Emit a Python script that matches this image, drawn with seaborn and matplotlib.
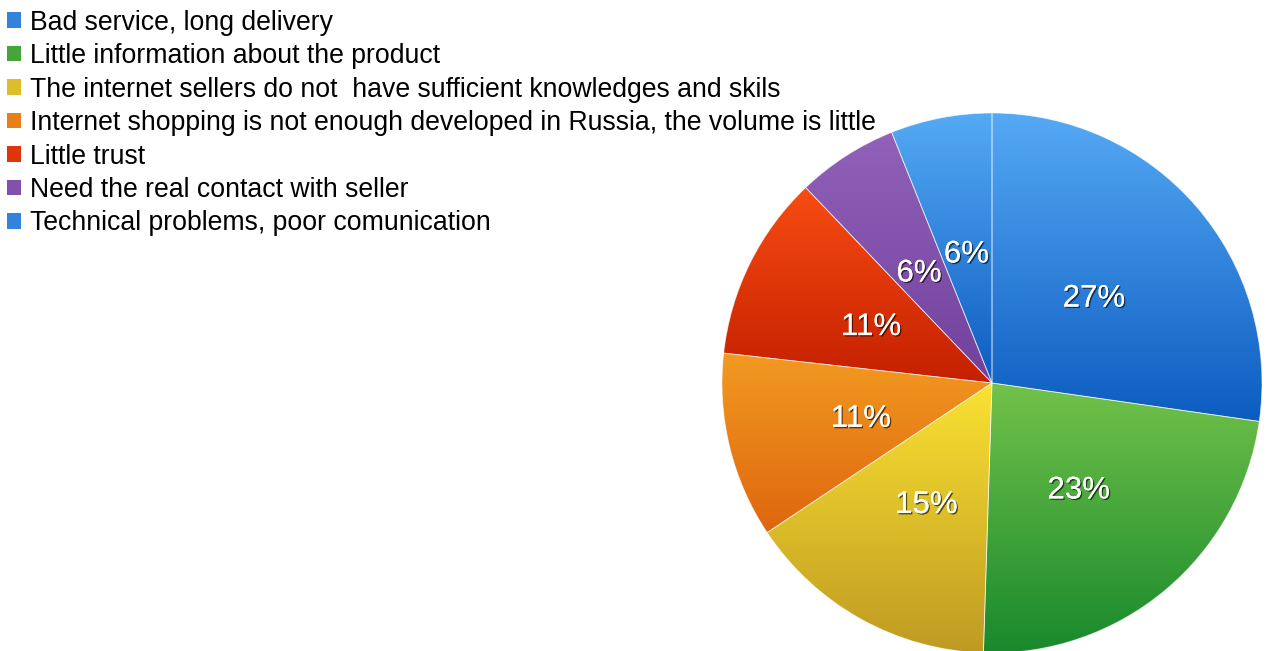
import numpy as np
import matplotlib
matplotlib.use("Agg")
import matplotlib.pyplot as plt
import matplotlib.colors as mcolors
import matplotlib.patheffects as pe
from matplotlib.patches import Patch
import seaborn as sns

categories = [
    "Bad service, long delivery",
    "Little information about the product",
    "The internet sellers do not  have sufficient knowledges and skils",
    "Internet shopping is not enough developed in Russia, the volume is little",
    "Little trust",
    "Need the real contact with seller",
    "Technical problems, poor comunication",
]
values = [27, 23, 15, 11, 11, 6, 6]
top_colors = ["#55aaf5", "#72c24a", "#fae232", "#f29a22", "#f84c12", "#9262ba", "#55aaf5"]
bottom_colors = ["#0c5cc0", "#18892c", "#bf9a22", "#de660e", "#c42000", "#70409c", "#0c5cc0"]

sns.set_style("white")
plt.rcParams["font.family"] = ["Liberation Sans", "DejaVu Sans"]

W, H = 1268, 651
fig = plt.figure(figsize=(W / 100, H / 100), dpi=100)
cx, cy, r = 992, 383, 270
ax = fig.add_axes([(cx - r) / W, (H - cy - r) / H, 2 * r / W, 2 * r / H])
ax.set_axis_off()

mid_colors = [
    tuple((np.array(mcolors.to_rgb(t)) + np.array(mcolors.to_rgb(b))) / 2)
    for t, b in zip(top_colors, bottom_colors)
]

wedges, texts, autotexts = ax.pie(
    values,
    colors=mid_colors,
    startangle=90,
    counterclock=False,
    autopct="%.0f%%",
    pctdistance=0.5,
    radius=1.0,
    wedgeprops=dict(edgecolor=(1, 1, 1, 0.6), linewidth=0.6),
    textprops=dict(color="white", fontsize=22.5),
)

# vertical gradient fill per wedge
for w, tc, bc in zip(wedges, top_colors, bottom_colors):
    ext = w.get_path().get_extents()
    t = np.array(mcolors.to_rgb(tc))
    b = np.array(mcolors.to_rgb(bc))
    s = np.linspace(0, 1, 256)[:, None, None]
    grad = t[None, None, :] * (1 - s) + b[None, None, :] * s
    im = ax.imshow(grad, extent=[ext.x0, ext.x1, ext.y0, ext.y1], origin="upper",
                   aspect="auto", zorder=w.get_zorder() + 0.1, interpolation="bilinear")
    im.set_clip_path(w)
    w.set_facecolor("none")
    w.set_zorder(w.get_zorder() + 0.2)

for t in autotexts:
    t.set_zorder(10)
    x, y = t.get_position()
    t.set_position((x, y - 0.015))
    t.set_path_effects([pe.withSimplePatchShadow(offset=(1.0, -1.0), shadow_rgbFace="black", alpha=0.6),
                        pe.Normal()])

ax.set_xlim(-1, 1)
ax.set_ylim(-1, 1)

handles = [Patch(facecolor=c, edgecolor="none") for c in mid_colors]
fig.legend(handles, categories, loc="upper left", bbox_to_anchor=(0.0, 1.0 - 3 / H),
           frameon=False, fontsize=19.2, handlelength=0.52, handleheight=0.52,
           handletextpad=0.36, labelspacing=0.28, borderaxespad=0.0,
           borderpad=0.25, labelcolor="black")

fig.savefig("out.png", dpi=100)
